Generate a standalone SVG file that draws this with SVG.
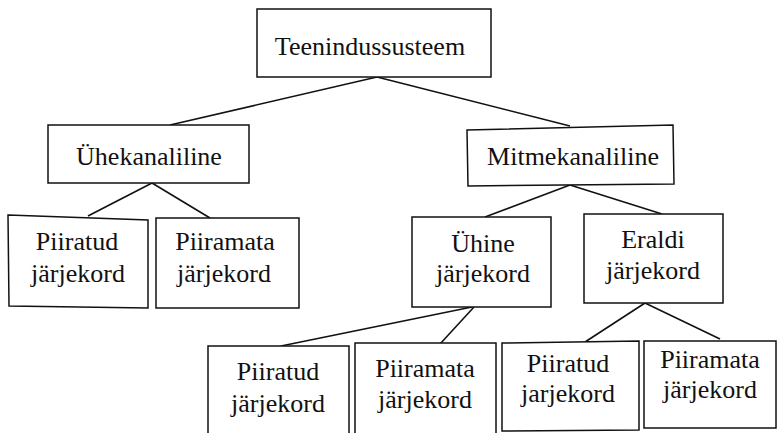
<svg xmlns="http://www.w3.org/2000/svg" width="782" height="433" viewBox="0 0 782 433">
<style>
.box{fill:#fff;stroke:#111;stroke-width:1.5}
.t{font-family:"Liberation Serif","Times New Roman",serif;font-size:26px;fill:#111;text-anchor:middle}
.c line{stroke:#111;stroke-width:1.6}
</style>
<rect width="782" height="433" fill="#fff"/>
<g class="c" id="connectors">
<line x1="377" y1="77" x2="170" y2="125"/>
<line x1="377" y1="77" x2="570" y2="126"/>
<line x1="152" y1="183" x2="88" y2="216"/>
<line x1="152" y1="183" x2="210" y2="218"/>
<line x1="570" y1="185" x2="485" y2="217"/>
<line x1="570" y1="185" x2="662" y2="214"/>
<line x1="472" y1="307" x2="281" y2="346"/>
<line x1="474" y1="307" x2="440" y2="344"/>
<line x1="645" y1="303" x2="585" y2="342"/>
<line x1="645" y1="303" x2="720" y2="339"/>
</g>
<g id="n_teenindussusteem">
<rect class="box" x="257" y="9" width="234" height="68"/>
<text class="t" x="370" y="55">Teenindussusteem</text>
</g>
<g id="n_uhekanaliline">
<rect class="box" x="48" y="125" width="201" height="58"/>
<text class="t" x="149" y="165">Ühekanaliline</text>
</g>
<g id="n_mitmekanaliline">
<polygon class="box" points="467,130 673,125 674,184 468,186"/>
<text class="t" x="573" y="165">Mitmekanaliline</text>
</g>
<g id="n_piiratud1">
<polygon class="box" points="8,215 148,220 148,308 9,306"/>
<text class="t" x="77" y="250">Piiratud</text>
<text class="t" x="78" y="282">järjekord</text>
</g>
<g id="n_piiramata1">
<rect class="box" x="156" y="218" width="143" height="90"/>
<text class="t" x="225" y="250">Piiramata</text>
<text class="t" x="224" y="282">järjekord</text>
</g>
<g id="n_uhine">
<rect class="box" x="412" y="217" width="139" height="90"/>
<text class="t" x="483" y="252">Ühine</text>
<text class="t" x="483" y="282">järjekord</text>
</g>
<g id="n_eraldi">
<rect class="box" x="584" y="214" width="139" height="89"/>
<text class="t" x="653" y="248">Eraldi</text>
<text class="t" x="653" y="279">järjekord</text>
</g>
<g id="n_piiratud2">
<rect class="box" x="208" y="346" width="141" height="100"/>
<text class="t" x="278" y="380">Piiratud</text>
<text class="t" x="278" y="412">järjekord</text>
</g>
<g id="n_piiramata2">
<rect class="box" x="355" y="343" width="141" height="100"/>
<text class="t" x="425" y="377">Piiramata</text>
<text class="t" x="425" y="408">järjekord</text>
</g>
<g id="n_piiratud3">
<polygon class="box" points="502,343 639,341 639,430 502,431"/>
<text class="t" x="568" y="372">Piiratud</text>
<text class="t" x="568" y="402">jarjekord</text>
</g>
<g id="n_piiramata3">
<rect class="box" x="644" y="341" width="132" height="87"/>
<text class="t" x="710" y="368">Piiramata</text>
<text class="t" x="710" y="398">järjekord</text>
</g>
</svg>
